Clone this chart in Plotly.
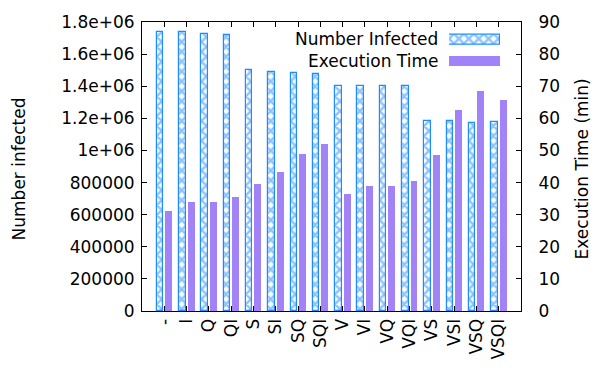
import plotly.graph_objects as go

categories = ["-", "I", "Q", "QI", "S", "SI", "SQ", "SQI", "V", "VI", "VQ", "VQI", "VS", "VSI", "VSQ", "VSQI"]
number_infected = [1740000, 1740000, 1728000, 1720000, 1499000, 1487000, 1481000, 1475000,
                   1403000, 1402000, 1400000, 1402000, 1186000, 1186000, 1168000, 1180000]
execution_time = [31.1, 33.9, 34.0, 35.5, 39.7, 43.3, 48.8, 52.1,
                  36.3, 38.8, 38.8, 40.6, 48.5, 62.7, 68.6, 65.7]
y_tickvals = [0, 200000, 400000, 600000, 800000, 1000000, 1200000, 1400000, 1600000, 1800000]
y_ticktext = ["0", "200000", "400000", "600000", "800000", "1e+06", "1.2e+06", "1.4e+06", "1.6e+06", "1.8e+06"]
series_names = ["Number Infected", "Execution Time"]
axis_titles = ["Number infected", "Execution Time (min)"]

BLUE = "#1e8cff"
PURPLE = "#a182f7"
FONT = "DejaVu Sans"
FS = 17
xpos = list(range(len(categories)))

pattern = dict(shape="x", fgcolor=BLUE, bgcolor="white", size=7, solidity=0.6)

fig = go.Figure()
fig.add_trace(go.Bar(
    x=xpos, y=number_infected, name=series_names[0], width=0.29, offset=-0.335,
    marker=dict(color="white", line=dict(color=BLUE, width=1.2), pattern=pattern),
    showlegend=False))
fig.add_trace(go.Bar(
    x=xpos, y=execution_time, name=series_names[1], width=0.31, offset=0.045,
    marker=dict(color=PURPLE, line=dict(width=0)), yaxis="y2", showlegend=False))

# legend samples (custom legend with text on the left, sample on the right)
fig.add_trace(go.Bar(
    x=[1], y=[1], orientation="h", width=0.46, xaxis="x3", yaxis="y3",
    marker=dict(color="white", line=dict(color=BLUE, width=1.2), pattern=pattern),
    showlegend=False, hoverinfo="skip"))
fig.add_trace(go.Bar(
    x=[1], y=[0], orientation="h", width=0.5, xaxis="x3", yaxis="y3",
    marker=dict(color=PURPLE, line=dict(width=0)),
    showlegend=False, hoverinfo="skip"))

W, H = 594, 372
L, R, T, B = 142, 73, 16, 58
pw, ph = W - L - R, H - T - B
def px(x): return (x - L) / pw
def py(y): return (H - B - y) / ph

fig.update_layout(
    width=W, height=H,
    margin=dict(l=L, r=R, t=T, b=B),
    paper_bgcolor="white", plot_bgcolor="white",
    font=dict(family=FONT, size=FS, color="black"),
    barmode="overlay",
    bargap=0,
    xaxis=dict(range=[-1, 16], tickvals=xpos, ticktext=categories, tickangle=-90,
               ticks="inside", ticklen=5, tickcolor="black", showline=True, linecolor="black",
               linewidth=1, mirror="ticks", showgrid=False, zeroline=False,
               tickfont=dict(family=FONT, size=FS)),
    yaxis=dict(range=[0, 1800000], tickvals=y_tickvals, ticktext=y_ticktext,
               ticks="inside", ticklen=5, tickcolor="black", showline=True, linecolor="black",
               linewidth=1, showgrid=False, zeroline=False, ticklabelstandoff=3),
    yaxis2=dict(range=[0, 90], dtick=10, overlaying="y", side="right",
                ticks="inside", ticklen=5, tickcolor="black", showline=True, linecolor="black",
                linewidth=1, showgrid=False, zeroline=False, ticklabelstandoff=13),
    xaxis3=dict(domain=[px(449), px(500)], range=[0, 1], visible=False, anchor="y3"),
    yaxis3=dict(domain=[py(67), py(23)], range=[-0.5, 1.5], visible=False, anchor="x3"),
    annotations=[
        dict(text=series_names[0], xref="paper", yref="paper", x=px(440), y=py(34),
             xanchor="right", yanchor="middle", showarrow=False, font=dict(family=FONT, size=FS)),
        dict(text=series_names[1], xref="paper", yref="paper", x=px(440), y=py(56),
             xanchor="right", yanchor="middle", showarrow=False, font=dict(family=FONT, size=FS)),
        dict(text=axis_titles[0], xref="paper", yref="paper", x=px(19), y=py(167),
             xanchor="center", yanchor="middle", textangle=-90, showarrow=False,
             font=dict(family=FONT, size=FS)),
        dict(text=axis_titles[1], xref="paper", yref="paper", x=px(582), y=py(168),
             xanchor="center", yanchor="middle", textangle=-90, showarrow=False,
             font=dict(family=FONT, size=FS)),
    ],
)

fig.write_html("out.html")
